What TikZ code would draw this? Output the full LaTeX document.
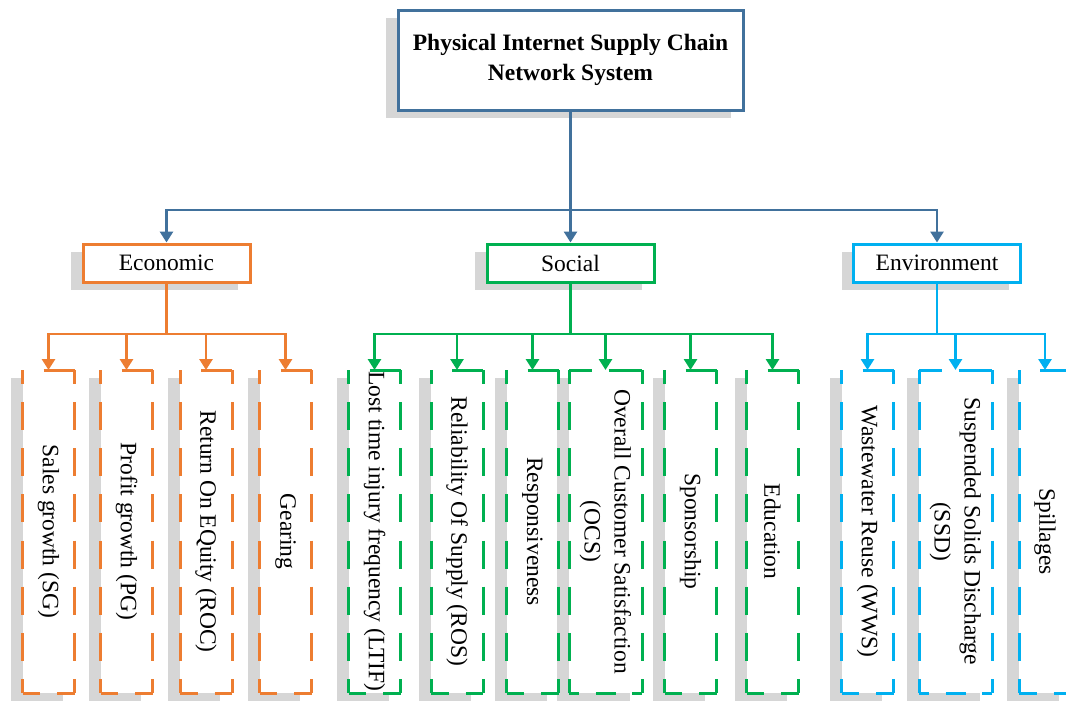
\documentclass[tikz,border=0pt]{standalone}
\usepackage{fontspec}
\setmainfont{Liberation Serif}
\usepackage{graphicx}
\usetikzlibrary{arrows.meta,shadows,calc}
\definecolor{topblue}{HTML}{41719C}
\definecolor{ecoorange}{HTML}{ED7D31}
\definecolor{socgreen}{HTML}{00B050}
\definecolor{envcyan}{HTML}{00B0F0}
\definecolor{shgray}{HTML}{D6D6D6}
\tikzset{
  shadowed/.style={drop shadow={shadow xshift=-12pt, shadow yshift=-8pt, fill=shgray, opacity=1}},
  topbox/.style={draw=topblue, line width=3pt, fill=white, minimum width=345pt, minimum height=100pt,
    align=center, inner sep=0pt, font=\bfseries\fontsize{23.5}{30}\selectfont, shadowed},
  catbox/.style={draw=#1, line width=3pt, fill=white, minimum width=167pt, minimum height=38pt,
    inner sep=0pt, font=\fontsize{23.5}{28}\selectfont, shadowed},
  kidbox/.style={fill=white, minimum width=52pt, minimum height=323pt, inner sep=0pt, outer sep=0pt,
    font=\fontsize{23.5}{30}\selectfont, shadowed},
  widekid/.style={kidbox, minimum width=73pt},
  con/.style={draw=#1, line width=2.8pt},
  arr/.style={-{Triangle[width=13pt,length=11pt]}},
  vdash/.style={line width=3pt, dash pattern=on 28pt off 18.143pt, dash phase=14pt},
  hdash/.style={line width=3pt, dash pattern=on 35pt off 17pt, dash phase=17.5pt},
  hdashwide/.style={line width=3pt, dash pattern=on 20pt off 16.5pt, dash phase=10pt},
  edgepiece/.style={line width=3pt},
}
\newcommand{\kidframe}[2]{%
  \draw[vdash,#2] (#1.north west) -- (#1.south west);
  \draw[vdash,#2] (#1.north east) -- (#1.south east);
  \draw[edgepiece,#2] ($(#1.north)+(-5,0)$) -- (#1.north east);
  \draw[hdash,#2] (#1.south west) -- (#1.south east);
}
\newcommand{\widekidframe}[2]{%
  \draw[vdash,#2] (#1.north west) -- (#1.south west);
  \draw[vdash,#2] (#1.north east) -- (#1.south east);
  \draw[edgepiece,#2] (#1.north west) -- ($(#1.north)+(-14,0)$);
  \draw[edgepiece,#2] ($(#1.north)+(3,0)$) -- (#1.north east);
  \draw[hdashwide,#2] (#1.south west) -- (#1.south east);
}
\newcommand{\vtext}[1]{\rotatebox{-90}{#1}}
\newcommand{\vtwo}[2]{\rotatebox{-90}{\begin{tabular}{@{}c@{}}#1\\#2\end{tabular}}}
\begin{document}
\begin{tikzpicture}[x=1pt,y=-1pt]
\useasboundingbox (0,0) rectangle (1066,704);
\clip (0,0) rectangle (1066,704);
\fill[white] (0,0) rectangle (1066,704);

% top
\node[topbox] (top) at (570.5,60) {Physical Internet Supply Chain\\Network System};

% categories
\node[catbox=ecoorange] (eco) at (166.5,263) {Economic};
\node[catbox=socgreen] (soc) at (570.5,263) {Social};
\node[catbox=envcyan] (env) at (937,263) {Environment};

% economic children
\node[kidbox] (sg) at (48.5,531.5) {\vtext{Sales growth (SG)}};
\node[kidbox] (pg) at (126.5,531.5) {\vtext{Profit growth (PG)}};
\node[kidbox] (roc) at (206,531.5) {\vtext{Return On EQuity (ROC)}};
\node[kidbox] (gear) at (285.5,531.5) {\vtext{Gearing}};

% social children
\node[kidbox] (ltif) at (374.5,531.5) {\vtext{Lost time injury frequency (LTIF)}};
\node[kidbox] (ros) at (457,531.5) {\vtext{Reliability Of Supply (ROS)}};
\node[kidbox] (resp) at (532.5,531.5) {\vtext{Responsiveness}};
\node[widekid] (ocs) at (605.5,531.5) {\vtwo{Overall Customer Satisfaction}{(OCS)}};
\node[kidbox] (spon) at (690.5,531.5) {\vtext{Sponsorship}};
\node[kidbox] (edu) at (772.5,531.5) {\vtext{Education}};

% environment children
\node[kidbox] (wws) at (867.5,531.5) {\vtext{Wastewater Reuse (WWS)}};
\node[widekid] (ssd) at (955.5,531.5) {\vtwo{Suspended Solids Discharge}{(SSD)}};
\node[kidbox] (spill) at (1045,531.5) {\vtext{Spillages}};

% frames
\kidframe{sg}{ecoorange}
\kidframe{pg}{ecoorange}
\kidframe{roc}{ecoorange}
\kidframe{gear}{ecoorange}
\kidframe{ltif}{socgreen}
\kidframe{ros}{socgreen}
\kidframe{resp}{socgreen}
\widekidframe{ocs}{socgreen}
\kidframe{spon}{socgreen}
\kidframe{edu}{socgreen}
\kidframe{wws}{envcyan}
\widekidframe{ssd}{envcyan}
\kidframe{spill}{envcyan}

% top connectors
\coordinate (tj) at (570.5,210);
\draw[con=topblue] (top.south) -- (tj);
\draw[con=topblue,arr] (tj) -| (eco.north);
\draw[con=topblue,arr] (tj) -- (soc.north);
\draw[con=topblue,arr] (tj) -| (env.north);

% economic connectors
\coordinate (ej) at (166.5,334);
\draw[con=ecoorange] (eco.south) -- (ej);
\foreach \k in {sg,pg,roc,gear} \draw[con=ecoorange,arr] (ej) -| (\k.north);

% social connectors
\coordinate (sj) at (570.5,334);
\draw[con=socgreen] (soc.south) -- (sj);
\foreach \k in {ltif,ros,resp,ocs,spon,edu} \draw[con=socgreen,arr] (sj) -| (\k.north);

% environment connectors
\coordinate (nj) at (937,334);
\draw[con=envcyan] (env.south) -- (nj);
\foreach \k in {wws,ssd,spill} \draw[con=envcyan,arr] (nj) -| (\k.north);
\end{tikzpicture}
\end{document}
